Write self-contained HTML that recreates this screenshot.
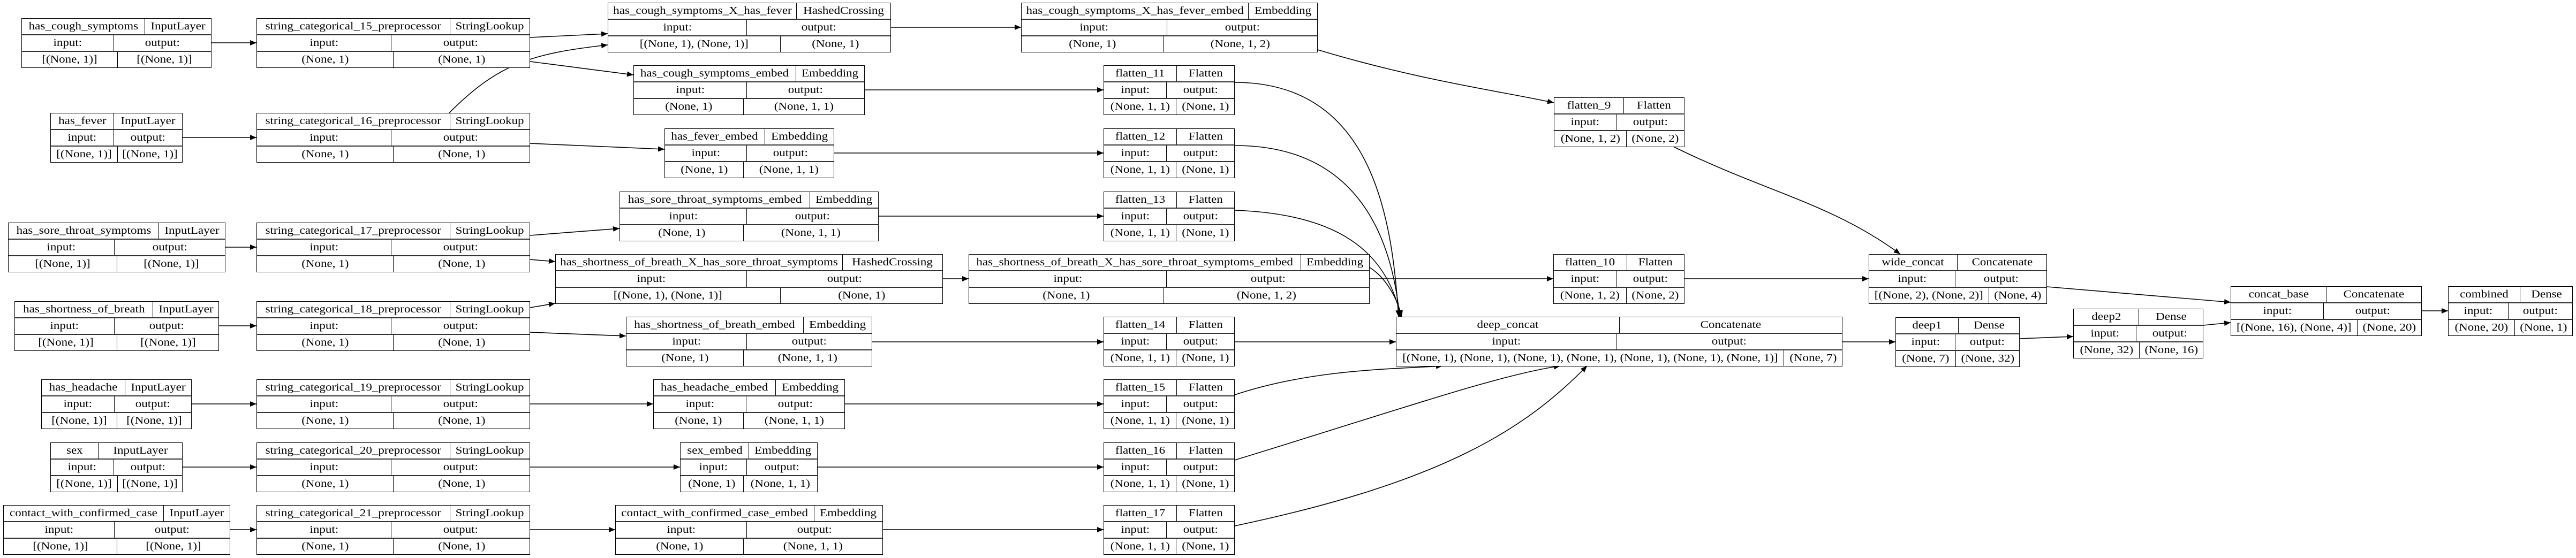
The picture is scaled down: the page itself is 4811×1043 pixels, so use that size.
<!DOCTYPE html>
<html><head><meta charset="utf-8"><style>
body{margin:0;width:4811px;height:1043px;background:#fff;position:relative;overflow:hidden;font-family:"Liberation Serif",serif;font-size:20px;color:#000}
.n{position:absolute;height:93px;border:1.5px solid #000;box-sizing:border-box;background:#fff;display:flex;flex-direction:column;z-index:2}
.r{flex:1;display:flex;min-height:0}
.r+.r{border-top:2px solid #333}
.c{display:flex;align-items:center;justify-content:center;white-space:nowrap;overflow:visible;box-sizing:border-box}
.c+.c{flex:1;border-left:1px solid #000}
.c i{font-style:normal;display:inline-block;transform:scaleX(1.15)}
svg{position:absolute;left:0;top:0;z-index:1}
</style></head><body>
<svg width="4811" height="1043" viewBox="0 0 4811 1043">
<defs><marker id="a" markerUnits="userSpaceOnUse" markerWidth="14" markerHeight="12" refX="12" refY="5" orient="auto"><path d="M0,0 L12,5 L0,10 z" fill="#000"/></marker></defs>
<g fill="none" stroke="#000" stroke-width="1.6" marker-end="url(#a)">
<path d="M395,80 L479,80"/><path d="M341,257 L479,257"/><path d="M421,462 L479,462"/><path d="M409,609 L479,609"/><path d="M358,755 L479,755"/><path d="M341,873 L479,873"/><path d="M430,990 L479,990"/>
<path d="M990,70 L1135,63"/><path d="M990,115 L1183,140"/><path d="M839,211 C930,120 990,100 1135,84"/><path d="M990,268 L1241,279"/>
<path d="M990,440 L1157,427"/><path d="M990,485 L1037,489"/><path d="M990,575 L1037,567"/><path d="M990,621 L1169,628"/>
<path d="M990,755 L1220,755"/><path d="M990,873 L1270,873"/><path d="M990,990 L1149,990"/>
<path d="M1664,51 L1907,51"/><path d="M2461,93 C2650,150 2800,170 2902,192"/>
<path d="M1615,168 L2061,168"/><path d="M1558,286 L2061,286"/><path d="M1641,404 L2061,404"/><path d="M1761,521 L1809,521"/><path d="M1629,639 L2061,639"/><path d="M1578,755 L2061,755"/><path d="M1527,873 L2061,873"/><path d="M1649,990 L2061,990"/>
<path d="M2558,521 L2901,521"/>
<path d="M2306,154 C2560,154 2600,400 2612,592"/><path d="M2306,272 C2540,272 2600,450 2614,592"/><path d="M2306,393 C2500,400 2590,470 2616,592"/><path d="M2558,500 C2590,520 2610,560 2618,592"/>
<path d="M2306,639 L2607,639"/>
<path d="M2306,738 C2450,690 2600,690 2694,684"/><path d="M2306,860 C2600,770 2800,700 2914,684"/><path d="M2306,983 C2700,900 2850,800 2964,684"/>
<path d="M3125,274 C3300,360 3420,380 3549,475"/><path d="M3146,521 L3490,521"/>
<path d="M3823,536 L4166,565"/><path d="M3441,639 L3540,639"/><path d="M3772,633 L3872,629"/><path d="M4115,608 L4166,603"/><path d="M4523,581 L4572,581"/>
</g></svg>

<div class="n" style="left:40px;top:34px;width:355px"><div class="r"><div class="c" style="width:229px"><i>has_cough_symptoms</i></div><div class="c"><i>InputLayer</i></div></div><div class="r"><div class="c" style="width:171px"><i>input:</i></div><div class="c"><i>output:</i></div></div><div class="r"><div class="c" style="width:178px"><i>[(None, 1)]</i></div><div class="c"><i>[(None, 1)]</i></div></div></div>
<div class="n" style="left:94px;top:211px;width:247px"><div class="r"><div class="c" style="width:117px"><i>has_fever</i></div><div class="c"><i>InputLayer</i></div></div><div class="r"><div class="c" style="width:117px"><i>input:</i></div><div class="c"><i>output:</i></div></div><div class="r"><div class="c" style="width:124px"><i>[(None, 1)]</i></div><div class="c"><i>[(None, 1)]</i></div></div></div>
<div class="n" style="left:15px;top:416px;width:406px"><div class="r"><div class="c" style="width:280px"><i>has_sore_throat_symptoms</i></div><div class="c"><i>InputLayer</i></div></div><div class="r"><div class="c" style="width:197px"><i>input:</i></div><div class="c"><i>output:</i></div></div><div class="r"><div class="c" style="width:202px"><i>[(None, 1)]</i></div><div class="c"><i>[(None, 1)]</i></div></div></div>
<div class="n" style="left:27px;top:563px;width:382px"><div class="r"><div class="c" style="width:257px"><i>has_shortness_of_breath</i></div><div class="c"><i>InputLayer</i></div></div><div class="r"><div class="c" style="width:185px"><i>input:</i></div><div class="c"><i>output:</i></div></div><div class="r"><div class="c" style="width:190px"><i>[(None, 1)]</i></div><div class="c"><i>[(None, 1)]</i></div></div></div>
<div class="n" style="left:77px;top:709px;width:281px"><div class="r"><div class="c" style="width:155px"><i>has_headache</i></div><div class="c"><i>InputLayer</i></div></div><div class="r"><div class="c" style="width:135px"><i>input:</i></div><div class="c"><i>output:</i></div></div><div class="r"><div class="c" style="width:140px"><i>[(None, 1)]</i></div><div class="c"><i>[(None, 1)]</i></div></div></div>
<div class="n" style="left:94px;top:827px;width:247px"><div class="r"><div class="c" style="width:88px"><i>sex</i></div><div class="c"><i>InputLayer</i></div></div><div class="r"><div class="c" style="width:117px"><i>input:</i></div><div class="c"><i>output:</i></div></div><div class="r"><div class="c" style="width:124px"><i>[(None, 1)]</i></div><div class="c"><i>[(None, 1)]</i></div></div></div>
<div class="n" style="left:6px;top:944px;width:424px"><div class="r"><div class="c" style="width:298px"><i>contact_with_confirmed_case</i></div><div class="c"><i>InputLayer</i></div></div><div class="r"><div class="c" style="width:206px"><i>input:</i></div><div class="c"><i>output:</i></div></div><div class="r"><div class="c" style="width:211px"><i>[(None, 1)]</i></div><div class="c"><i>[(None, 1)]</i></div></div></div>

<div class="n" style="left:479px;top:34px;width:511px"><div class="r"><div class="c" style="width:360px"><i>string_categorical_15_preprocessor</i></div><div class="c"><i>StringLookup</i></div></div><div class="r"><div class="c" style="width:250px"><i>input:</i></div><div class="c"><i>output:</i></div></div><div class="r"><div class="c" style="width:254px"><i>(None, 1)</i></div><div class="c"><i>(None, 1)</i></div></div></div>
<div class="n" style="left:479px;top:211px;width:511px"><div class="r"><div class="c" style="width:360px"><i>string_categorical_16_preprocessor</i></div><div class="c"><i>StringLookup</i></div></div><div class="r"><div class="c" style="width:250px"><i>input:</i></div><div class="c"><i>output:</i></div></div><div class="r"><div class="c" style="width:254px"><i>(None, 1)</i></div><div class="c"><i>(None, 1)</i></div></div></div>
<div class="n" style="left:479px;top:416px;width:511px"><div class="r"><div class="c" style="width:360px"><i>string_categorical_17_preprocessor</i></div><div class="c"><i>StringLookup</i></div></div><div class="r"><div class="c" style="width:250px"><i>input:</i></div><div class="c"><i>output:</i></div></div><div class="r"><div class="c" style="width:254px"><i>(None, 1)</i></div><div class="c"><i>(None, 1)</i></div></div></div>
<div class="n" style="left:479px;top:563px;width:511px"><div class="r"><div class="c" style="width:360px"><i>string_categorical_18_preprocessor</i></div><div class="c"><i>StringLookup</i></div></div><div class="r"><div class="c" style="width:250px"><i>input:</i></div><div class="c"><i>output:</i></div></div><div class="r"><div class="c" style="width:254px"><i>(None, 1)</i></div><div class="c"><i>(None, 1)</i></div></div></div>
<div class="n" style="left:479px;top:709px;width:511px"><div class="r"><div class="c" style="width:360px"><i>string_categorical_19_preprocessor</i></div><div class="c"><i>StringLookup</i></div></div><div class="r"><div class="c" style="width:250px"><i>input:</i></div><div class="c"><i>output:</i></div></div><div class="r"><div class="c" style="width:254px"><i>(None, 1)</i></div><div class="c"><i>(None, 1)</i></div></div></div>
<div class="n" style="left:479px;top:827px;width:511px"><div class="r"><div class="c" style="width:360px"><i>string_categorical_20_preprocessor</i></div><div class="c"><i>StringLookup</i></div></div><div class="r"><div class="c" style="width:250px"><i>input:</i></div><div class="c"><i>output:</i></div></div><div class="r"><div class="c" style="width:254px"><i>(None, 1)</i></div><div class="c"><i>(None, 1)</i></div></div></div>
<div class="n" style="left:479px;top:944px;width:511px"><div class="r"><div class="c" style="width:360px"><i>string_categorical_21_preprocessor</i></div><div class="c"><i>StringLookup</i></div></div><div class="r"><div class="c" style="width:250px"><i>input:</i></div><div class="c"><i>output:</i></div></div><div class="r"><div class="c" style="width:254px"><i>(None, 1)</i></div><div class="c"><i>(None, 1)</i></div></div></div>

<div class="n" style="left:1135px;top:5px;width:529px"><div class="r"><div class="c" style="width:351px"><i>has_cough_symptoms_X_has_fever</i></div><div class="c"><i>HashedCrossing</i></div></div><div class="r"><div class="c" style="width:258px"><i>input:</i></div><div class="c"><i>output:</i></div></div><div class="r"><div class="c" style="width:321px"><i>[(None, 1), (None, 1)]</i></div><div class="c"><i>(None, 1)</i></div></div></div>
<div class="n" style="left:1907px;top:5px;width:554px"><div class="r"><div class="c" style="width:423px"><i>has_cough_symptoms_X_has_fever_embed</i></div><div class="c"><i>Embedding</i></div></div><div class="r"><div class="c" style="width:271px"><i>input:</i></div><div class="c"><i>output:</i></div></div><div class="r"><div class="c" style="width:264px"><i>(None, 1)</i></div><div class="c"><i>(None, 1, 2)</i></div></div></div>
<div class="n" style="left:1183px;top:122px;width:432px"><div class="r"><div class="c" style="width:302px"><i>has_cough_symptoms_embed</i></div><div class="c"><i>Embedding</i></div></div><div class="r"><div class="c" style="width:210px"><i>input:</i></div><div class="c"><i>output:</i></div></div><div class="r"><div class="c" style="width:204px"><i>(None, 1)</i></div><div class="c"><i>(None, 1, 1)</i></div></div></div>
<div class="n" style="left:1241px;top:240px;width:317px"><div class="r"><div class="c" style="width:186px"><i>has_fever_embed</i></div><div class="c"><i>Embedding</i></div></div><div class="r"><div class="c" style="width:152px"><i>input:</i></div><div class="c"><i>output:</i></div></div><div class="r"><div class="c" style="width:146px"><i>(None, 1)</i></div><div class="c"><i>(None, 1, 1)</i></div></div></div>
<div class="n" style="left:1157px;top:358px;width:484px"><div class="r"><div class="c" style="width:354px"><i>has_sore_throat_symptoms_embed</i></div><div class="c"><i>Embedding</i></div></div><div class="r"><div class="c" style="width:236px"><i>input:</i></div><div class="c"><i>output:</i></div></div><div class="r"><div class="c" style="width:230px"><i>(None, 1)</i></div><div class="c"><i>(None, 1, 1)</i></div></div></div>
<div class="n" style="left:1037px;top:475px;width:724px"><div class="r"><div class="c" style="width:535px"><i>has_shortness_of_breath_X_has_sore_throat_symptoms</i></div><div class="c"><i>HashedCrossing</i></div></div><div class="r"><div class="c" style="width:356px"><i>input:</i></div><div class="c"><i>output:</i></div></div><div class="r"><div class="c" style="width:419px"><i>[(None, 1), (None, 1)]</i></div><div class="c"><i>(None, 1)</i></div></div></div>
<div class="n" style="left:1809px;top:475px;width:749px"><div class="r"><div class="c" style="width:619px"><i>has_shortness_of_breath_X_has_sore_throat_symptoms_embed</i></div><div class="c"><i>Embedding</i></div></div><div class="r"><div class="c" style="width:368px"><i>input:</i></div><div class="c"><i>output:</i></div></div><div class="r"><div class="c" style="width:363px"><i>(None, 1)</i></div><div class="c"><i>(None, 1, 2)</i></div></div></div>
<div class="n" style="left:1169px;top:592px;width:460px"><div class="r"><div class="c" style="width:330px"><i>has_shortness_of_breath_embed</i></div><div class="c"><i>Embedding</i></div></div><div class="r"><div class="c" style="width:224px"><i>input:</i></div><div class="c"><i>output:</i></div></div><div class="r"><div class="c" style="width:218px"><i>(None, 1)</i></div><div class="c"><i>(None, 1, 1)</i></div></div></div>
<div class="n" style="left:1220px;top:709px;width:358px"><div class="r"><div class="c" style="width:227px"><i>has_headache_embed</i></div><div class="c"><i>Embedding</i></div></div><div class="r"><div class="c" style="width:172px"><i>input:</i></div><div class="c"><i>output:</i></div></div><div class="r"><div class="c" style="width:167px"><i>(None, 1)</i></div><div class="c"><i>(None, 1, 1)</i></div></div></div>
<div class="n" style="left:1270px;top:827px;width:257px"><div class="r"><div class="c" style="width:127px"><i>sex_embed</i></div><div class="c"><i>Embedding</i></div></div><div class="r"><div class="c" style="width:123px"><i>input:</i></div><div class="c"><i>output:</i></div></div><div class="r"><div class="c" style="width:117px"><i>(None, 1)</i></div><div class="c"><i>(None, 1, 1)</i></div></div></div>
<div class="n" style="left:1149px;top:944px;width:500px"><div class="r"><div class="c" style="width:370px"><i>contact_with_confirmed_case_embed</i></div><div class="c"><i>Embedding</i></div></div><div class="r"><div class="c" style="width:244px"><i>input:</i></div><div class="c"><i>output:</i></div></div><div class="r"><div class="c" style="width:238px"><i>(None, 1)</i></div><div class="c"><i>(None, 1, 1)</i></div></div></div>

<div class="n" style="left:2061px;top:122px;width:245px"><div class="r"><div class="c" style="width:135px"><i>flatten_11</i></div><div class="c"><i>Flatten</i></div></div><div class="r"><div class="c" style="width:116px"><i>input:</i></div><div class="c"><i>output:</i></div></div><div class="r"><div class="c" style="width:134px"><i>(None, 1, 1)</i></div><div class="c"><i>(None, 1)</i></div></div></div>
<div class="n" style="left:2061px;top:240px;width:245px"><div class="r"><div class="c" style="width:135px"><i>flatten_12</i></div><div class="c"><i>Flatten</i></div></div><div class="r"><div class="c" style="width:116px"><i>input:</i></div><div class="c"><i>output:</i></div></div><div class="r"><div class="c" style="width:134px"><i>(None, 1, 1)</i></div><div class="c"><i>(None, 1)</i></div></div></div>
<div class="n" style="left:2061px;top:358px;width:245px"><div class="r"><div class="c" style="width:135px"><i>flatten_13</i></div><div class="c"><i>Flatten</i></div></div><div class="r"><div class="c" style="width:116px"><i>input:</i></div><div class="c"><i>output:</i></div></div><div class="r"><div class="c" style="width:134px"><i>(None, 1, 1)</i></div><div class="c"><i>(None, 1)</i></div></div></div>
<div class="n" style="left:2061px;top:592px;width:245px"><div class="r"><div class="c" style="width:135px"><i>flatten_14</i></div><div class="c"><i>Flatten</i></div></div><div class="r"><div class="c" style="width:116px"><i>input:</i></div><div class="c"><i>output:</i></div></div><div class="r"><div class="c" style="width:134px"><i>(None, 1, 1)</i></div><div class="c"><i>(None, 1)</i></div></div></div>
<div class="n" style="left:2061px;top:709px;width:245px"><div class="r"><div class="c" style="width:135px"><i>flatten_15</i></div><div class="c"><i>Flatten</i></div></div><div class="r"><div class="c" style="width:116px"><i>input:</i></div><div class="c"><i>output:</i></div></div><div class="r"><div class="c" style="width:134px"><i>(None, 1, 1)</i></div><div class="c"><i>(None, 1)</i></div></div></div>
<div class="n" style="left:2061px;top:827px;width:245px"><div class="r"><div class="c" style="width:135px"><i>flatten_16</i></div><div class="c"><i>Flatten</i></div></div><div class="r"><div class="c" style="width:116px"><i>input:</i></div><div class="c"><i>output:</i></div></div><div class="r"><div class="c" style="width:134px"><i>(None, 1, 1)</i></div><div class="c"><i>(None, 1)</i></div></div></div>
<div class="n" style="left:2061px;top:944px;width:245px"><div class="r"><div class="c" style="width:135px"><i>flatten_17</i></div><div class="c"><i>Flatten</i></div></div><div class="r"><div class="c" style="width:116px"><i>input:</i></div><div class="c"><i>output:</i></div></div><div class="r"><div class="c" style="width:134px"><i>(None, 1, 1)</i></div><div class="c"><i>(None, 1)</i></div></div></div>
<div class="n" style="left:2902px;top:182px;width:244px"><div class="r"><div class="c" style="width:129px"><i>flatten_9</i></div><div class="c"><i>Flatten</i></div></div><div class="r"><div class="c" style="width:115px"><i>input:</i></div><div class="c"><i>output:</i></div></div><div class="r"><div class="c" style="width:134px"><i>(None, 1, 2)</i></div><div class="c"><i>(None, 2)</i></div></div></div>
<div class="n" style="left:2901px;top:475px;width:245px"><div class="r"><div class="c" style="width:136px"><i>flatten_10</i></div><div class="c"><i>Flatten</i></div></div><div class="r"><div class="c" style="width:116px"><i>input:</i></div><div class="c"><i>output:</i></div></div><div class="r"><div class="c" style="width:135px"><i>(None, 1, 2)</i></div><div class="c"><i>(None, 2)</i></div></div></div>

<div class="n" style="left:2607px;top:592px;width:834px"><div class="r"><div class="c" style="width:416px"><i>deep_concat</i></div><div class="c"><i>Concatenate</i></div></div><div class="r"><div class="c" style="width:410px"><i>input:</i></div><div class="c"><i>output:</i></div></div><div class="r"><div class="c" style="width:723px"><i>[(None, 1), (None, 1), (None, 1), (None, 1), (None, 1), (None, 1), (None, 1)]</i></div><div class="c"><i>(None, 7)</i></div></div></div>
<div class="n" style="left:3490px;top:475px;width:333px"><div class="r"><div class="c" style="width:164px"><i>wide_concat</i></div><div class="c"><i>Concatenate</i></div></div><div class="r"><div class="c" style="width:160px"><i>input:</i></div><div class="c"><i>output:</i></div></div><div class="r"><div class="c" style="width:223px"><i>[(None, 2), (None, 2)]</i></div><div class="c"><i>(None, 4)</i></div></div></div>
<div class="n" style="left:3540px;top:593px;width:232px"><div class="r"><div class="c" style="width:116px"><i>deep1</i></div><div class="c"><i>Dense</i></div></div><div class="r"><div class="c" style="width:110px"><i>input:</i></div><div class="c"><i>output:</i></div></div><div class="r"><div class="c" style="width:111px"><i>(None, 7)</i></div><div class="c"><i>(None, 32)</i></div></div></div>
<div class="n" style="left:3872px;top:577px;width:243px"><div class="r"><div class="c" style="width:121px"><i>deep2</i></div><div class="c"><i>Dense</i></div></div><div class="r"><div class="c" style="width:116px"><i>input:</i></div><div class="c"><i>output:</i></div></div><div class="r"><div class="c" style="width:122px"><i>(None, 32)</i></div><div class="c"><i>(None, 16)</i></div></div></div>
<div class="n" style="left:4166px;top:535px;width:357px"><div class="r"><div class="c" style="width:177px"><i>concat_base</i></div><div class="c"><i>Concatenate</i></div></div><div class="r"><div class="c" style="width:172px"><i>input:</i></div><div class="c"><i>output:</i></div></div><div class="r"><div class="c" style="width:235px"><i>[(None, 16), (None, 4)]</i></div><div class="c"><i>(None, 20)</i></div></div></div>
<div class="n" style="left:4572px;top:535px;width:233px"><div class="r"><div class="c" style="width:133px"><i>combined</i></div><div class="c"><i>Dense</i></div></div><div class="r"><div class="c" style="width:111px"><i>input:</i></div><div class="c"><i>output:</i></div></div><div class="r"><div class="c" style="width:123px"><i>(None, 20)</i></div><div class="c"><i>(None, 1)</i></div></div></div>
</body></html>
